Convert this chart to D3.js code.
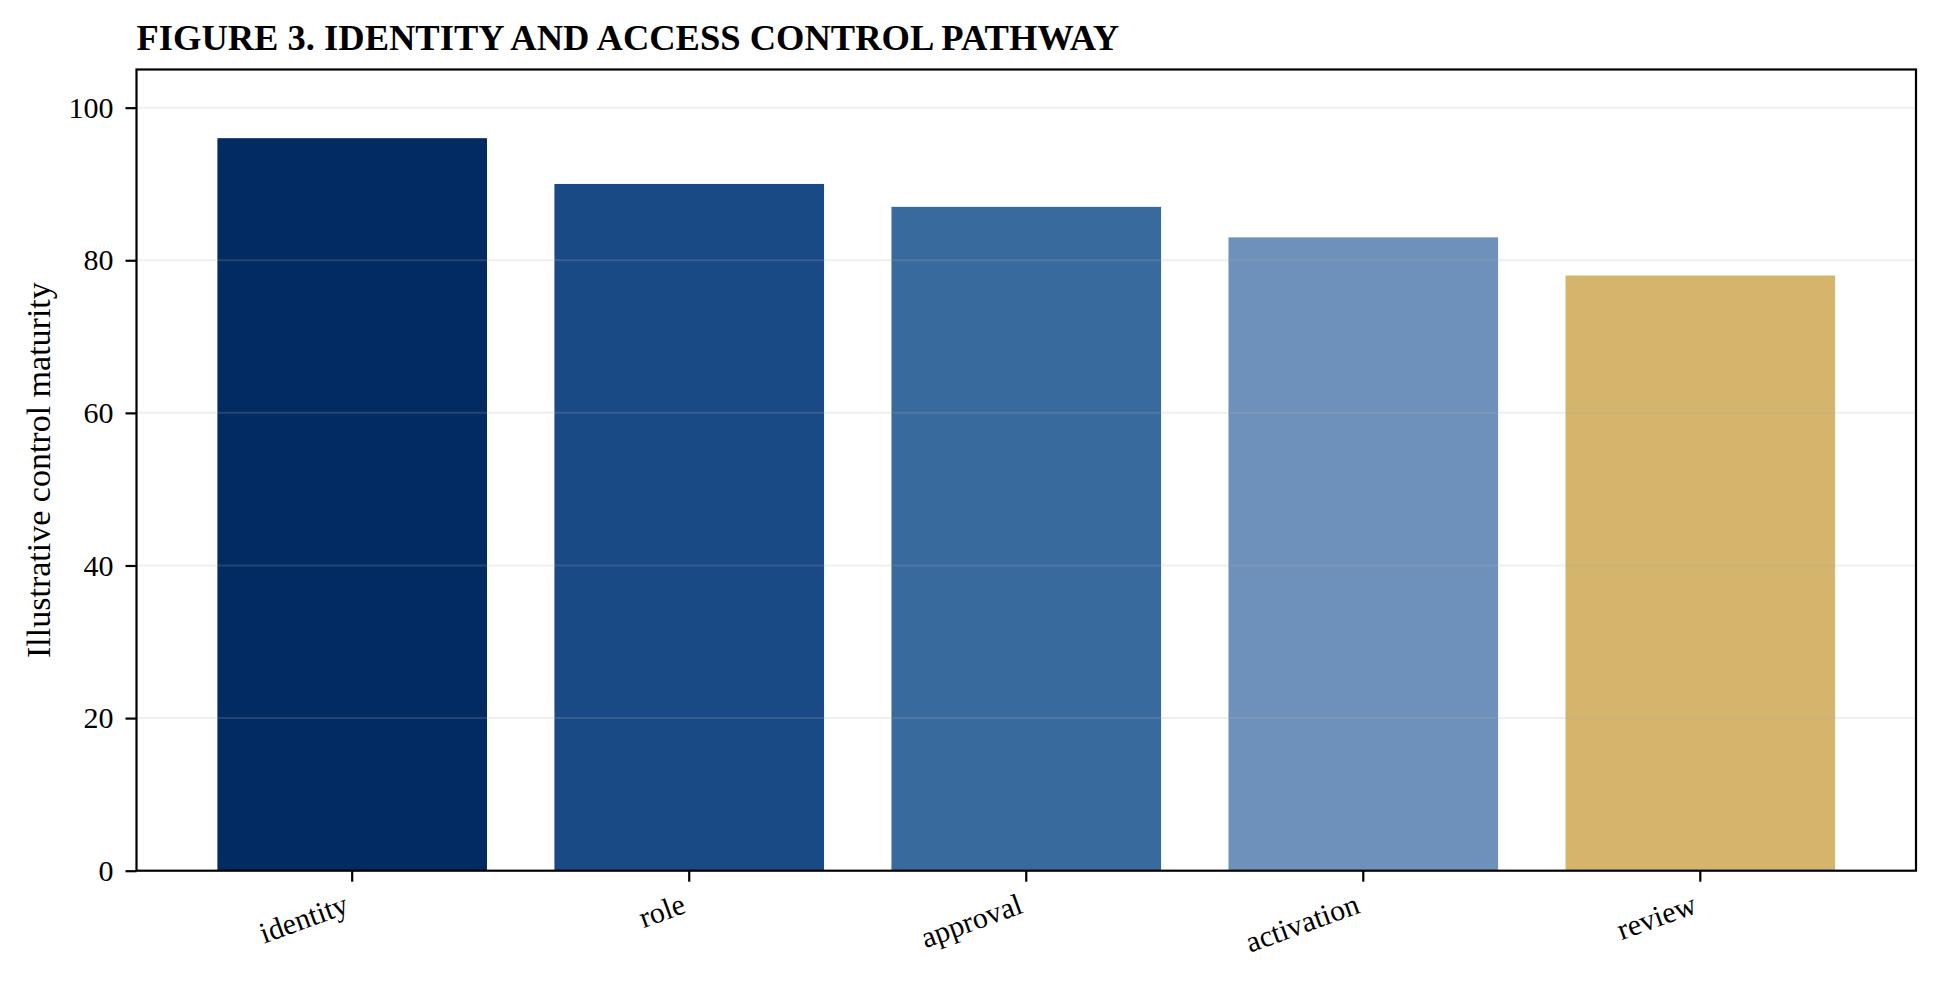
<!DOCTYPE html>
<html>
<head>
<meta charset="utf-8">
<script src="https://cdn.jsdelivr.net/npm/d3@7"></script>
<style>
  body { margin: 0; background: #fff; }
  text { font-family: "Liberation Serif", "Times New Roman", serif; fill: #000; }
</style>
</head>
<body>
<div id="chart"></div>
<script>
// chart data
const stages = ["identity", "role", "approval", "activation", "review"];
const maturity = [96, 90, 87, 83, 78];
const barColors = ["#022b64", "#1a4a85", "#386a9e", "#6e91bb", "#d5b46b"];
const yTicks = [0, 20, 40, 60, 80, 100];

const W = 1939, H = 983;
const margin = { top: 69.5, right: 23, bottom: 112.3, left: 136.5 };
const width = W - margin.left - margin.right;
const height = H - margin.top - margin.bottom;

const svg = d3.select("#chart")
    .append("svg")
    .attr("width", W)
    .attr("height", H);

const g = svg.append("g")
    .attr("transform", `translate(${margin.left},${margin.top})`);

// bar width 0.8 of step, with 5% side margins like matplotlib
const x = d3.scaleBand()
    .domain(stages)
    .range([0, width])
    .paddingInner(0.2)
    .paddingOuter(0.24);

const y = d3.scaleLinear()
    .domain([0, 105])
    .range([height, 0]);

// bars
g.selectAll(".bar")
    .data(stages)
    .enter().append("rect")
    .attr("class", "bar")
    .attr("x", d => x(d))
    .attr("width", x.bandwidth())
    .attr("y", (d, i) => y(maturity[i]))
    .attr("height", (d, i) => height - y(maturity[i]))
    .attr("fill", (d, i) => barColors[i]);

// grid on top of bars
g.selectAll(".grid")
    .data(yTicks.filter(t => t > 0))
    .enter().append("line")
    .attr("class", "grid")
    .attr("x1", 0)
    .attr("x2", width)
    .attr("y1", d => y(d))
    .attr("y2", d => y(d))
    .attr("stroke", "#b0b0b0")
    .attr("stroke-opacity", 0.2)
    .attr("stroke-width", 2);

// y axis
const yAxis = g.append("g")
    .call(d3.axisLeft(y).tickValues(yTicks).tickSize(11).tickPadding(12));
yAxis.select(".domain").remove();
yAxis.selectAll(".tick line").attr("stroke", "#000").attr("stroke-width", 2.2);
yAxis.selectAll(".tick text").style("font-size", "30px");

// x axis, labels rotated 20deg and right-aligned under the tick
const xAxis = g.append("g")
    .attr("transform", `translate(0,${height})`)
    .call(d3.axisBottom(x).tickSize(11).tickPadding(0));
xAxis.select(".domain").remove();
xAxis.selectAll(".tick line").attr("stroke", "#000").attr("stroke-width", 2.2);
xAxis.selectAll(".tick text")
    .style("font-size", "30px")
    .style("text-anchor", "end")
    .attr("x", 0)
    .attr("y", 0)
    .attr("dy", 0)
    .attr("transform", "translate(-2,41.6) rotate(-20)");

// frame
g.append("rect")
    .attr("width", width)
    .attr("height", height)
    .attr("fill", "none")
    .attr("stroke", "#000")
    .attr("stroke-width", 2.2);

// y label
g.append("text")
    .attr("transform", "rotate(-90)")
    .attr("x", -height / 2)
    .attr("y", -margin.left + 38)
    .attr("dy", "0.35em")
    .style("text-anchor", "middle")
    .style("font-size", "34px")
    .text("Illustrative control maturity");

// title
svg.append("text")
    .attr("x", margin.left)
    .attr("y", 50)
    .style("font-size", "36.5px")
    .style("font-weight", "bold")
    .text("FIGURE 3. IDENTITY AND ACCESS CONTROL PATHWAY");
</script>
</body>
</html>
